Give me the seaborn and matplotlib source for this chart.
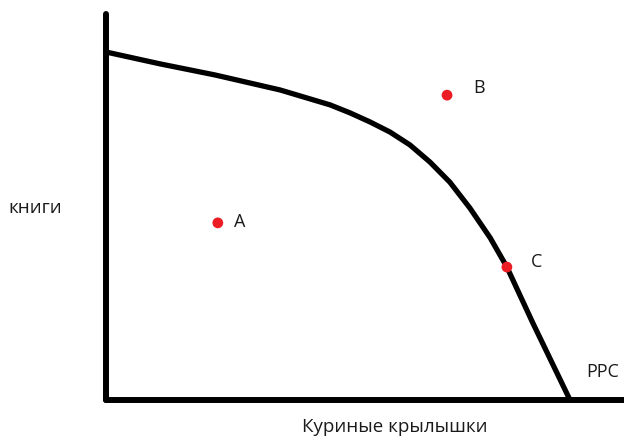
import numpy as np
import pandas as pd
import matplotlib
matplotlib.use("Agg")
import matplotlib.pyplot as plt
import seaborn as sns

# production possibility curve (0..100 scale)
ppc_x = [0, 11.6, 23.5, 37.5, 48.3, 52.6, 56.9, 61.2, 65.5, 69.8, 74.1, 78.4, 82.8, 86.4, 92.0, 100]
ppc_y = [100, 96.6, 93.4, 89.1, 84.8, 82.5, 79.9, 77.0, 73.3, 68.4, 62.6, 55.2, 46.6, 38.2, 22.1, 0]

point_names = ["A", "B", "C"]
point_x = [24.1, 73.5, 86.4]
point_y = [50.9, 87.6, 38.2]

sns.set_style("white")
plt.rcParams['font.family'] = ['Open Sans', 'DejaVu Sans']

W, H = 624, 441
fig = plt.figure(figsize=(W / 100, H / 100), dpi=100)
# axes corner at pixel (106, 400), top of y axis at 14, x axis runs to right edge
ax = fig.add_axes([106 / W, (H - 400) / H, (W - 106) / W, (400 - 14) / H])
ax.set_xlim(0, (W - 106) / 4.64)
ax.set_ylim(0, (400 - 14) / 3.48)

curve = pd.DataFrame({"x": ppc_x, "y": ppc_y})
sns.lineplot(data=curve, x="x", y="y", ax=ax, color="black", linewidth=3.8,
             sort=False, estimator=None, clip_on=False,
             solid_capstyle="round", solid_joinstyle="round")

pts = pd.DataFrame({"x": point_x, "y": point_y, "name": point_names})
sns.scatterplot(data=pts, x="x", y="y", ax=ax, color="#ec1c24", s=60,
                edgecolor="none", zorder=5, clip_on=False)

offsets = {"A": (4.8, 0.3), "B": (7.0, 2.0), "C": (6.4, 1.4)}
for n, x, y in zip(point_names, point_x, point_y):
    dx, dy = offsets[n]
    ax.text(x + dx, y + dy, n, fontsize=13, color="#1a1a1a", va="center", ha="center")

for side in ["top", "right"]:
    ax.spines[side].set_visible(False)
for side in ["left", "bottom"]:
    ax.spines[side].set_linewidth(4.3)
    ax.spines[side].set_color("black")
    ax.spines[side].set_capstyle("round")
ax.set_xticks([])
ax.set_yticks([])
ax.set_xlabel("")
ax.set_ylabel("")

fig.text(35 / W, 1 - 208 / H, "книги", fontsize=13.5, color="#1a1a1a", ha="center", va="center")
fig.text(395 / W, 1 - 427 / H, "Куриные крылышки", fontsize=13.5, color="#1a1a1a", ha="center", va="center")
fig.text(603 / W, 1 - 372 / H, "PPC", fontsize=13, color="#1a1a1a", ha="center", va="center")

fig.savefig("out.png", dpi=100)
